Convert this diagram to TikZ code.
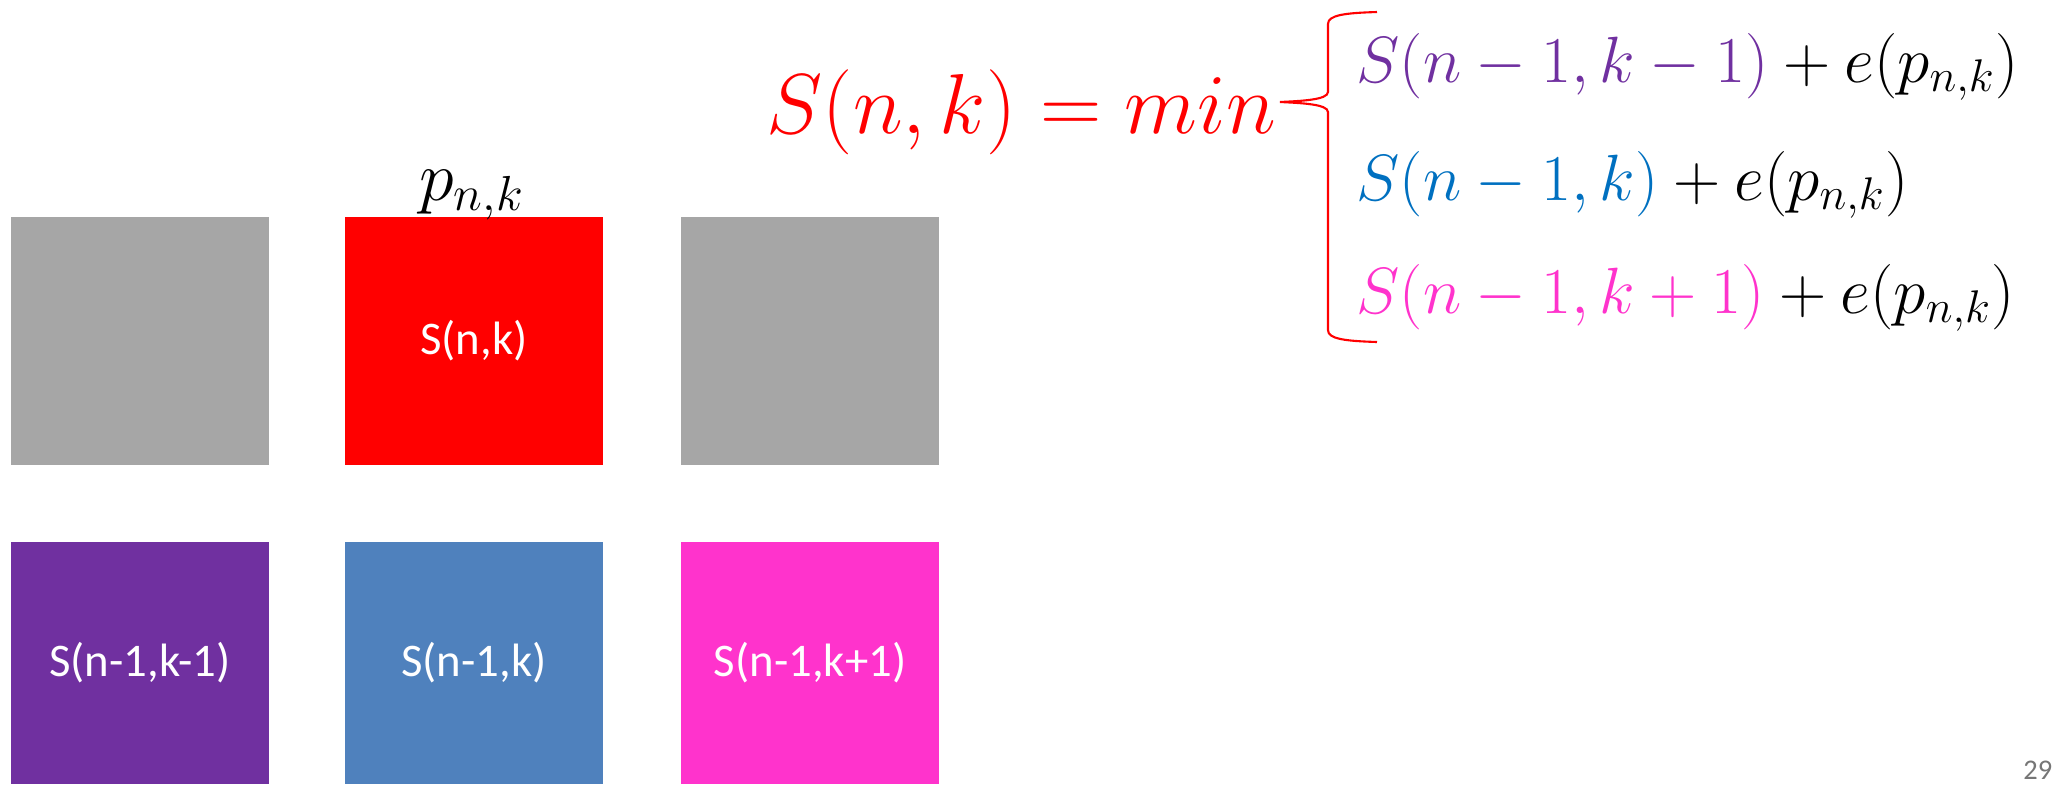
\RequirePackage{fix-cm}
\documentclass[tikz,border=0pt]{standalone}
\usepackage{fontspec}
\newfontfamily\carlito{Carlito}
\definecolor{boxgray}{RGB}{166,166,166}
\definecolor{boxred}{RGB}{255,0,0}
\definecolor{boxpurple}{RGB}{112,48,160}
\definecolor{boxblue}{RGB}{79,129,189}
\definecolor{boxpink}{RGB}{255,51,204}
\definecolor{mpurple}{RGB}{112,48,160}
\definecolor{mblue}{RGB}{0,112,192}
\definecolor{mpink}{RGB}{255,51,204}
\definecolor{pagegray}{RGB}{118,118,118}
\begin{document}
\begin{tikzpicture}[x=0.01cm,y=-0.01cm,
  cell/.style={rectangle, draw=none, inner sep=0pt, minimum width=2.58cm, text=white,
    font=\carlito\fontsize{13.3}{16}\selectfont},
  toprow/.style={cell, minimum height=2.48cm},
  botrow/.style={cell, minimum height=2.42cm},
  eqline/.style={anchor=base west, inner sep=0pt, font=\fontsize{18.6}{22}\selectfont},
  bracestyle/.style={draw=red, line width=0.6pt}
]
\useasboundingbox (0,0) rectangle (2065,784);
% top row
\node[toprow, fill=boxgray] (g1) at (140,341) {};
\node[toprow, fill=boxred] (r) at (474,341) {S(n,k)};
\node[toprow, fill=boxgray] (g2) at (810,341) {};
% bottom row
\node[botrow, fill=boxpurple] (b1) at (140,663) {S(n-1,k-1)};
\node[botrow, fill=boxblue] (b2) at (474,663) {S(n-1,k)};
\node[botrow, fill=boxpink] (b3) at (810,663) {S(n-1,k+1)};
% label above red box
\node[anchor=base, inner sep=0pt, font=\fontsize{20}{24}\selectfont] (p) at (472,200) {$p_{n,k}$};
% main formula
\node[anchor=base west, inner sep=0pt, text=red, font=\fontsize{24.2}{28}\selectfont] (f) at (766,133) {$S(n,k)=min$};
% brace
\coordinate (bt) at (1377,12);
\coordinate (bb) at (1377,342);
\coordinate (tip) at (1280,102);
\path[bracestyle] (bt) .. controls (1345,13) and (1328,15) .. (1328,24) -- (1328,92)
  .. controls (1328,100) and (1300,101) .. (tip)
  .. controls (1300,103) and (1328,104) .. (1328,112) -- (1328,330)
  .. controls (1328,339) and (1345,341) .. (bb);
% cases
\node[eqline] (l1) at (1356,82) {$\textcolor{mpurple}{S(n-1,k-1)}+e(p_{n,k})$};
\node[eqline] (l2) at (1356,200) {$\textcolor{mblue}{S(n-1,k)}+e(p_{n,k})$};
\node[eqline] (l3) at (1356,313) {$\textcolor{mpink}{S(n-1,k+1)}+e(p_{n,k})$};
% page number
\node[anchor=base east, inner sep=0pt, text=pagegray, font=\carlito\fontsize{8.1}{10}\selectfont] (pg) at (2053,779) {29};
\end{tikzpicture}
\end{document}
